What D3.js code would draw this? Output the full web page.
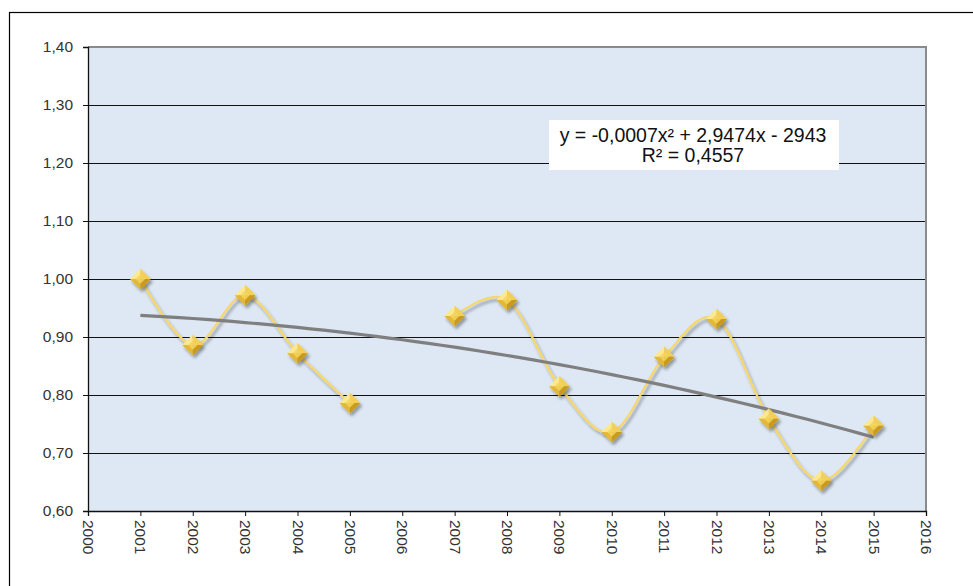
<!DOCTYPE html>
<html>
<head>
<meta charset="utf-8">
<script src="https://cdn.jsdelivr.net/npm/d3@7"></script>
<style>
  body { margin: 0; background: #fff; }
  text { font-family: "Liberation Sans", Arial, sans-serif; }
</style>
</head>
<body>
<div id="chart"></div>
<script>
// values (2006 has no value)
let years = [2001, 2002, 2003, 2004, 2005, 2006, 2007, 2008, 2009, 2010, 2011, 2012, 2013, 2014, 2015];
let values = [1.00, 0.886, 0.972, 0.872, 0.786, null, 0.936, 0.964, 0.815, 0.736, 0.866, 0.931, 0.759, 0.652, 0.747];
let yTicks = [0.6, 0.7, 0.8, 0.9, 1.0, 1.1, 1.2, 1.3, 1.4];
let xTicks = d3.range(2000, 2017);
let eqLines = ["y = -0,0007x\u00B2 + 2,9474x - 2943", "R\u00B2 = 0,4557"];

let width = 973, height = 586;
let plot = {left: 88, top: 47, right: 926, bottom: 511};

let svg = d3.select("#chart").append("svg")
    .attr("width", width)
    .attr("height", height);

let defs = svg.append("defs");
let shadow = defs.append("filter").attr("id", "shadow")
    .attr("x", "-50%").attr("y", "-50%").attr("width", "200%").attr("height", "200%");
shadow.append("feDropShadow").attr("dx", 2).attr("dy", 3).attr("stdDeviation", 1.8)
    .attr("flood-color", "#000").attr("flood-opacity", 0.35);

// outer chart border
svg.append("rect")
    .attr("x", 9.5).attr("y", 12.5)
    .attr("width", 1000).attr("height", 1000)
    .attr("fill", "none").attr("stroke", "#000").attr("stroke-width", 1.2);

let xScale = d3.scaleLinear().domain([2000, 2016]).range([plot.left, plot.right]);
let yScale = d3.scaleLinear().domain([0.6, 1.4]).range([plot.bottom, plot.top]);

// plot background
svg.append("rect")
    .attr("x", plot.left).attr("y", plot.top)
    .attr("width", plot.right - plot.left).attr("height", plot.bottom - plot.top)
    .attr("fill", "#dde8f4");

// gridlines
svg.append("g").selectAll("line")
    .data(yTicks.slice(1, -1))
    .join("line")
    .attr("x1", plot.left).attr("x2", plot.right)
    .attr("y1", (d) => Math.round(yScale(d)) + 0.5)
    .attr("y2", (d) => Math.round(yScale(d)) + 0.5)
    .attr("stroke", "#111").attr("stroke-width", 1);

// plot top/right border (grey)
svg.append("path")
    .attr("d", `M${plot.left},${plot.top} H${plot.right} V${plot.bottom}`)
    .attr("fill", "none").attr("stroke", "#8a8a8a").attr("stroke-width", 2);

// axes
let yAxis = d3.axisLeft(yScale)
    .tickValues(yTicks)
    .tickSize(5)
    .tickFormat((d) => d3.format(".2f")(d).replace(".", ","));
let gy = svg.append("g")
    .attr("transform", `translate(${plot.left}, 0)`)
    .call(yAxis)
    .attr("font-size", 15.5);
gy.selectAll("text").style("font-size", "15.5px").attr("fill", "#333").attr("x", -15);

let xAxis = d3.axisBottom(xScale)
    .tickValues(xTicks)
    .tickSize(5)
    .tickFormat(d3.format("d"));
let gx = svg.append("g")
    .attr("transform", `translate(0, ${plot.bottom})`)
    .call(xAxis)
    .attr("font-size", 15.5);
gx.selectAll("text")
    .style("font-size", "15.5px").attr("fill", "#333")
    .attr("transform", "rotate(90)")
    .attr("x", 9).attr("y", 0).attr("dy", "0.35em")
    .attr("text-anchor", "start");
svg.selectAll(".domain").attr("stroke", "#111").attr("stroke-width", 1.3);
svg.selectAll(".tick line").attr("stroke", "#111");

// data with gap
let data = years.map((y, i) => ({year: y, value: values[i]}));
let pts = data.filter((d) => d.value !== null);

// quadratic trend (least squares on the points, like the spreadsheet does)
let fit = (() => {
    let x0 = 2008;
    let s = Array(5).fill(0), t = Array(3).fill(0);
    pts.forEach((d) => {
        let x = d.year - x0;
        for (let k = 0; k < 5; k++) s[k] += Math.pow(x, k);
        for (let k = 0; k < 3; k++) t[k] += d.value * Math.pow(x, k);
    });
    let A = [[s[0], s[1], s[2], t[0]], [s[1], s[2], s[3], t[1]], [s[2], s[3], s[4], t[2]]];
    for (let i = 0; i < 3; i++) {
        for (let j = i + 1; j < 3; j++) {
            let f = A[j][i] / A[i][i];
            for (let k = i; k < 4; k++) A[j][k] -= f * A[i][k];
        }
    }
    let c = [0, 0, 0];
    for (let i = 2; i >= 0; i--) {
        let sum = A[i][3];
        for (let k = i + 1; k < 3; k++) sum -= A[i][k] * c[k];
        c[i] = sum / A[i][i];
    }
    return (yr) => c[0] + c[1] * (yr - x0) + c[2] * (yr - x0) * (yr - x0);
})();

// smoothed series line
let line = d3.line()
    .defined((d) => d.value !== null)
    .x((d) => xScale(d.year))
    .y((d) => yScale(d.value))
    .curve(d3.curveCardinal.tension(0));

svg.append("path")
    .datum(data)
    .attr("d", line)
    .attr("fill", "none")
    .attr("stroke", "#f7d66a")
    .attr("stroke-width", 2.2)
    .attr("filter", "url(#shadow)");

// trend line
let trendYears = d3.range(years[0], years[years.length - 1] + 0.01, 0.25);
svg.append("path")
    .datum(trendYears)
    .attr("d", d3.line().x((d) => xScale(d)).y((d) => yScale(fit(d))))
    .attr("fill", "none")
    .attr("stroke", "#7f7f7f")
    .attr("stroke-width", 3.2);

// markers: gold pyramid diamonds
let r = 10.5;
let markers = svg.append("g").selectAll("g")
    .data(pts)
    .join("g")
    .attr("transform", (d) => `translate(${xScale(d.year)}, ${yScale(d.value)})`)
    .attr("filter", "url(#shadow)");
let facets = [
    {p: [[0, -r], [-r, 0], [0, 0]], c: "#fbe88f"},
    {p: [[0, -r], [r, 0], [0, 0]], c: "#f2cf57"},
    {p: [[-r, 0], [0, r], [0, 0]], c: "#e3b838"},
    {p: [[r, 0], [0, r], [0, 0]], c: "#c99a1f"}
];
markers.selectAll("path")
    .data(facets)
    .join("path")
    .attr("d", (f) => "M" + f.p.map((q) => q.join(",")).join("L") + "Z")
    .attr("fill", (f) => f.c);
markers.append("path")
    .attr("d", `M0,${-r * 0.45}L${r * 0.45},0L0,${r * 0.45}L${-r * 0.45},0Z`)
    .attr("fill", "#f5d35c").attr("opacity", 0.85);

// equation label
let eq = svg.append("g");
eq.append("rect")
    .attr("x", 549).attr("y", 120).attr("width", 290).attr("height", 50)
    .attr("fill", "#fff");
eq.selectAll("text")
    .data(eqLines)
    .join("text")
    .attr("x", 693)
    .attr("y", (d, i) => 142 + i * 20)
    .attr("text-anchor", "middle")
    .attr("font-size", 19.5)
    .attr("fill", "#111")
    .text((d) => d);
</script>
</body>
</html>
